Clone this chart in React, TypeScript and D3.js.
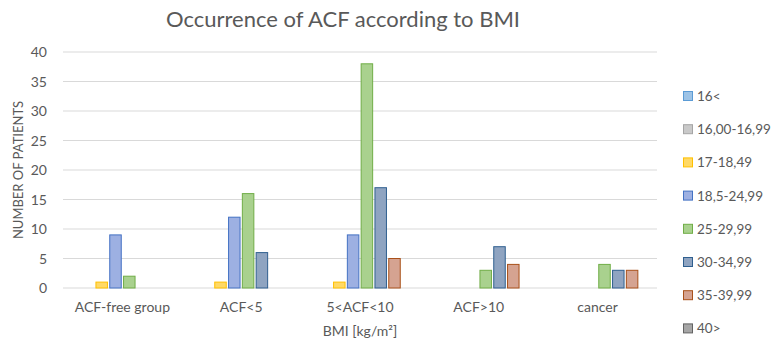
import React from "react";
import * as d3 from "d3";

const categories = ["ACF-free group", "ACF<5", "5<ACF<10", "ACF>10", "cancer"];
const seriesNames = ["16<", "16,00-16,99", "17-18,49", "18,5-24,99", "25-29,99", "30-34,99", "35-39,99", "40>"];
const s16 = [0, 0, 0, 0, 0];
const s16_00 = [0, 0, 0, 0, 0];
const s17 = [1, 1, 1, 0, 0];
const s18_5 = [9, 12, 9, 0, 0];
const s25 = [2, 16, 38, 3, 4];
const s30 = [0, 6, 17, 7, 3];
const s35 = [0, 0, 5, 4, 3];
const s40 = [0, 0, 0, 0, 0];
const seriesValues = [s16, s16_00, s17, s18_5, s25, s30, s35, s40];
const yTicks = [0, 5, 10, 15, 20, 25, 30, 35, 40];

const fills = ["#9DC3E6", "#C9C9C9", "#FFD966", "#9DB0E2", "#A9D18E", "#8FA4C1", "#D5A391", "#A6A6A6"];
const strokes = ["#5B9BD5", "#A5A5A5", "#FFC000", "#4472C4", "#70AD47", "#2F5F8F", "#A9511A", "#636363"];

export default function App() {
  const W = 772, H = 342;
  const left = 63, right = 657, top = 52, bottom = 288;
  const x0 = d3.scaleBand().domain(categories).range([left, right]).paddingInner(0).paddingOuter(0);
  const inner = 13.8;
  const y = d3.scaleLinear().domain([0, 40]).range([bottom, top]);
  const font = "Lato, 'Open Sans', sans-serif";
  const grey = "#595959";
  const barW = 11.5;
  return (
    <svg width={W} height={H} style={{ position: "absolute", left: 0, top: 0, background: "#fff" }} fontFamily={font}>
      <text x={343} y={27} textAnchor="middle" fontSize={22} fill={grey}>Occurrence of ACF according to BMI</text>
      {yTicks.map(t => (
        <g key={t}>
          <line x1={left} x2={right} y1={y(t)} y2={y(t)} stroke="#D9D9D9" strokeWidth={1} />
          <text x={47} y={y(t) + 5} textAnchor="end" fontSize={14} fill={grey}>{t}</text>
        </g>
      ))}
      {seriesValues.map((vals, si) => (
        <g key={si}>
          {vals.map((v, ci) => {
            if (v <= 0) return null;
            const c = x0(categories[ci])! + x0.bandwidth() / 2 + (si - 3.5) * inner;
            return (
              <rect key={ci} x={c - barW / 2} y={y(v)} width={barW} height={y(0) - y(v)}
                fill={fills[si]} stroke={strokes[si]} strokeWidth={1} />
            );
          })}
        </g>
      ))}
      {categories.map(c => (
        <text key={c} x={x0(c)! + x0.bandwidth() / 2} y={312} textAnchor="middle" fontSize={14} fill={grey}>{c}</text>
      ))}
      <text x={360} y={336} textAnchor="middle" fontSize={14} fill={grey}>BMI [kg/m²]</text>
      <text transform={`translate(23,170) rotate(-90)`} textAnchor="middle" fontSize={13} fill={grey}>NUMBER OF PATIENTS</text>
      {seriesNames.map((n, i) => (
        <g key={n}>
          <rect x={683.5} y={96 + i * 33.2 - 4.5} width={9} height={9} fill={fills[i]} stroke={strokes[i]} strokeWidth={1} />
          <text x={697} y={96 + i * 33.2 + 5} fontSize={13.5} fill={grey}>{n}</text>
        </g>
      ))}
    </svg>
  );
}
